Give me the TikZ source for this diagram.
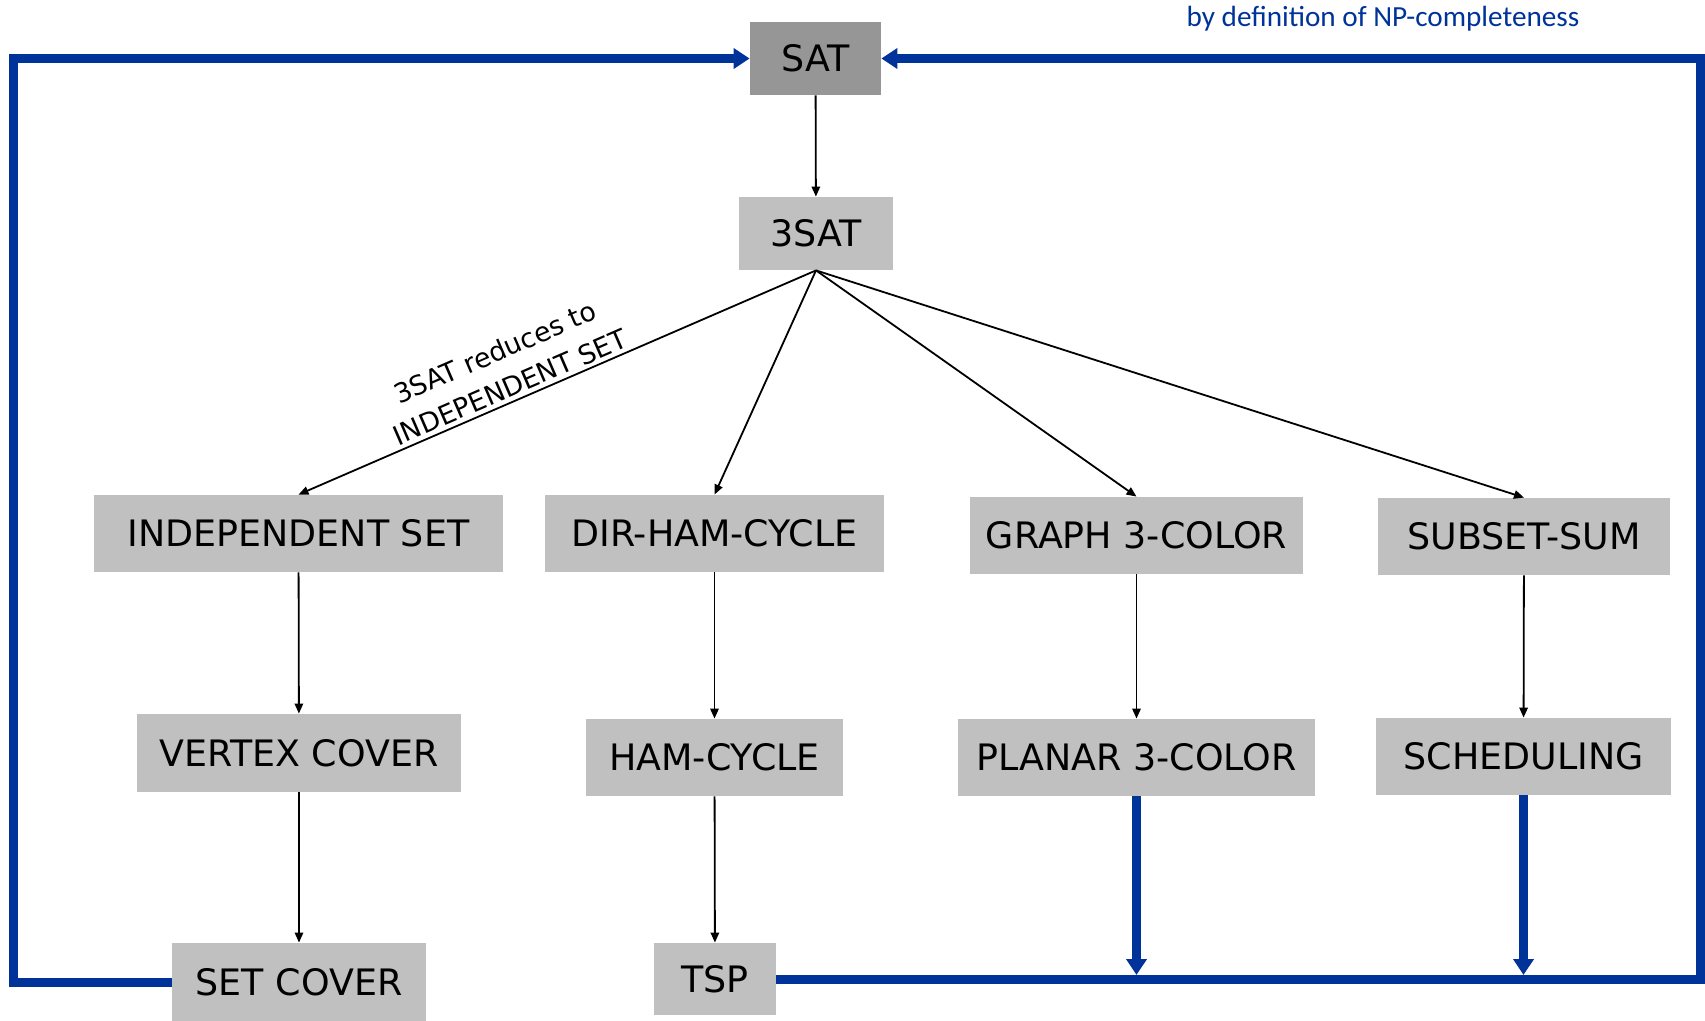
\documentclass[tikz,border=0pt]{standalone}
\usepackage{fontspec}
\setmainfont{DejaVu Sans}
\newfontfamily\calfont{Carlito}
\usetikzlibrary{arrows.meta}
\definecolor{npblue}{RGB}{0,51,153}
\definecolor{boxgray}{RGB}{192,192,192}
\definecolor{satgray}{RGB}{150,150,150}
\begin{document}
\begin{tikzpicture}[x=0.5pt,y=-0.5pt,
  probbox/.style={fill=boxgray, draw=none, inner sep=0pt, font=\fontsize{18.2}{20}\selectfont},
  redarrow/.style={-{Triangle[length=5pt,width=4.2pt]}, line width=0.9pt, black},
  bluearrow/.style={-{Triangle[length=8pt,width=10pt]}, line width=4.5pt, npblue},
  blueline/.style={line width=4.5pt, npblue}]
\useasboundingbox (0,0) rectangle (1705,1021);

\node[probbox, fill=satgray, minimum width=65.5pt, minimum height=36.5pt] (sat) at (815.5,58.5) {SAT};
\node[probbox, minimum width=77pt, minimum height=36.5pt] (s3) at (816,233.5) {3SAT};
\node[probbox, minimum width=204.5pt, minimum height=38.5pt] (is) at (298.5,533.5) {INDEPENDENT SET};
\node[probbox, minimum width=169.5pt, minimum height=38.5pt] (dhc) at (714.5,533.5) {DIR-HAM-CYCLE};
\node[probbox, minimum width=166.5pt, minimum height=38.5pt] (g3c) at (1136.5,535.5) {GRAPH 3-COLOR};
\node[probbox, minimum width=146pt, minimum height=38.5pt] (ss) at (1524,536.5) {SUBSET-SUM};
\node[probbox, minimum width=162pt, minimum height=39pt] (vc) at (299,753) {VERTEX COVER};
\node[probbox, minimum width=128.5pt, minimum height=38.5pt] (hc) at (714.5,757.5) {HAM-CYCLE};
\node[probbox, minimum width=178.5pt, minimum height=38.5pt] (p3c) at (1136.5,757.5) {PLANAR 3-COLOR};
\node[probbox, minimum width=147.5pt, minimum height=38.5pt] (sched) at (1523.5,756.5) {SCHEDULING};
\node[probbox, minimum width=127pt, minimum height=39pt] (sc) at (299,982) {SET COVER};
\node[probbox, minimum width=61pt, minimum height=36pt] (tsp) at (715,979) {TSP};

\node[font=\calfont\fontsize{14.6}{16}\selectfont, text=npblue, inner sep=0pt] (def) at (1383,19) {by definition of NP-completeness};

% black reductions
\draw[redarrow] (sat) -- (s3);
\draw[redarrow] (s3.south) -- (is.north);
\draw[redarrow] (s3.south) -- (dhc.north);
\draw[redarrow] (s3.south) -- (g3c.north);
\draw[redarrow] (s3.south) -- (ss.north);
\draw[redarrow] (is) -- (vc);
\draw[redarrow] (vc) -- (sc);
\draw[redarrow] (dhc) -- (hc);
\draw[redarrow] (hc) -- (tsp);
\draw[redarrow] (g3c) -- (p3c);
\draw[redarrow] (ss) -- (sched);

\path (is.north) -- (s3.south)
  node[pos=0.42, sloped, above, align=center, inner sep=2pt,
       font=\fontsize{13.4}{19}\selectfont] (lbl) {3SAT reduces to\\INDEPENDENT SET};

% blue NP-completeness loop
\draw[bluearrow] (sc.west) -- ++(-158,0) |- (sat.west);
\draw[bluearrow] (tsp.east) -- ++(924,0) |- (sat.east);
\draw[bluearrow, shorten >=2pt] (p3c.south) -- (p3c.south |- tsp.east);
\draw[bluearrow, shorten >=2pt] (sched.south) -- (sched.south |- tsp.east);
\end{tikzpicture}
\end{document}
